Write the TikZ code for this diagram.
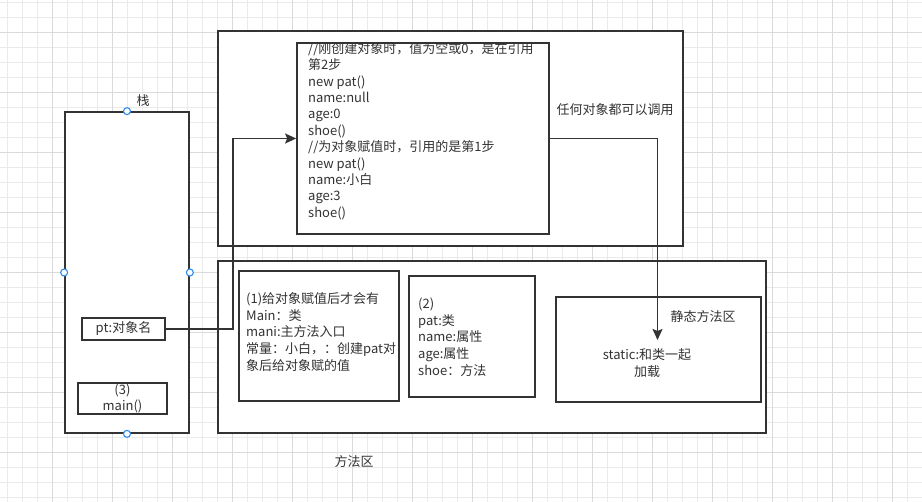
\documentclass[tikz,border=0pt]{standalone}
\usepackage{fontspec}
\setmainfont{Noto Sans CJK SC}
\usepackage{xcolor}
\usepackage{tikz}
\usetikzlibrary{arrows.meta}
\definecolor{inkgray}{HTML}{333333}
\definecolor{gridminor}{HTML}{EAEAEA}
\definecolor{gridmajor}{HTML}{DADADA}
\definecolor{handleblue}{HTML}{2D8CF0}

\begin{document}
\begin{tikzpicture}[x=1pt, y=-1pt,
    box/.style={draw=inkgray, line width=1.7pt, fill=white, inner sep=0pt},
    txt/.style={text=inkgray, font=\fontsize{13}{16.4}\selectfont, inner sep=0pt, align=left},
    handle/.style={circle, draw=handleblue, fill=white, line width=1.1pt, minimum size=7pt, inner sep=0pt},
    arrow/.style={-{Stealth[length=11pt, width=10pt, inset=2pt]}, draw=inkgray, line width=1.7pt}
]
\useasboundingbox (0,0) rectangle (922,502);
% background grid
\foreach \gx in {7.3,22.3,...,922} \draw[gridminor, line width=1pt] (\gx,0) -- (\gx,502);
\foreach \gy in {2.3,17.3,...,502} \draw[gridminor, line width=1pt] (0,\gy) -- (922,\gy);
\foreach \gx in {52.3,112.3,...,922} \draw[gridmajor, line width=1pt] (\gx,0) -- (\gx,502);
\foreach \gy in {32.3,92.3,...,502} \draw[gridmajor, line width=1pt] (0,\gy) -- (922,\gy);

% stack
\node[box, minimum width=124pt, minimum height=321pt] (stack) at (127,272.5) {};
\node[txt] (stacklabel) at (143,101) {栈};
\node[box, minimum width=83pt, minimum height=22pt] (ptname) at (123.5,329) {\fontsize{13}{16.4}\selectfont\color{inkgray}pt:对象名};
\node[box, minimum width=89pt, minimum height=31pt, align=center, font=\fontsize{13}{16.6}\selectfont, text=inkgray] (mainfn) at (122.5,398.5) {(3)\\main()};
\foreach \side in {north,south,east,west} \node[handle] (h\side) at (stack.\side) {};

% heap
\node[box, minimum width=465pt, minimum height=215pt] (heap) at (450.5,138.5) {};
\node[box, minimum width=252pt, minimum height=191pt] (objbox) at (423,138.5) {};
\node[txt, anchor=west] (objtext) at (308,131) {//刚创建对象时，值为空或0，是在引用\\第2步\\new pat()\\name:null\\age:0\\shoe()\\//为对象赋值时，引用的是第1步\\new pat()\\name:小白\\age:3\\shoe()};
\node[txt] (anyuse) at (615,110) {任何对象都可以调用};

% method area
\node[box, minimum width=548pt, minimum height=172pt] (method) at (492,347) {};
\node[txt] (methodlabel) at (354,462) {方法区};
\node[box, minimum width=160pt, minimum height=130pt] (classinfo) at (319,336) {};
\node[txt, anchor=west, font=\fontsize{13}{16.7}\selectfont] (classtext) at (246,332) {(1)给对象赋值后才会有\\Main：类\\mani:主方法入口\\常量：小白，：创建pat对\\象后给对象赋的值};
\node[box, minimum width=126pt, minimum height=121pt] (patclass) at (472,336.5) {};
\node[txt, anchor=west, font=\fontsize{13}{16.7}\selectfont] (pattext) at (418,337) {(2)\\pat:类\\name:属性\\age:属性\\shoe：方法};
\node[box, minimum width=205pt, minimum height=105pt] (static) at (658.5,349.5) {};
\node[txt] (staticlabel) at (703,317) {静态方法区};
\node[txt, align=center] (statictext) at (647,363) {static:和类一起\\加载};

\coordinate (loadpt) at (657.5,340);
\draw[arrow] (ptname.east) -- ++(67,0) |- (objbox.west);
\draw[arrow] (objbox.east) -| (loadpt);
\end{tikzpicture}
\end{document}
